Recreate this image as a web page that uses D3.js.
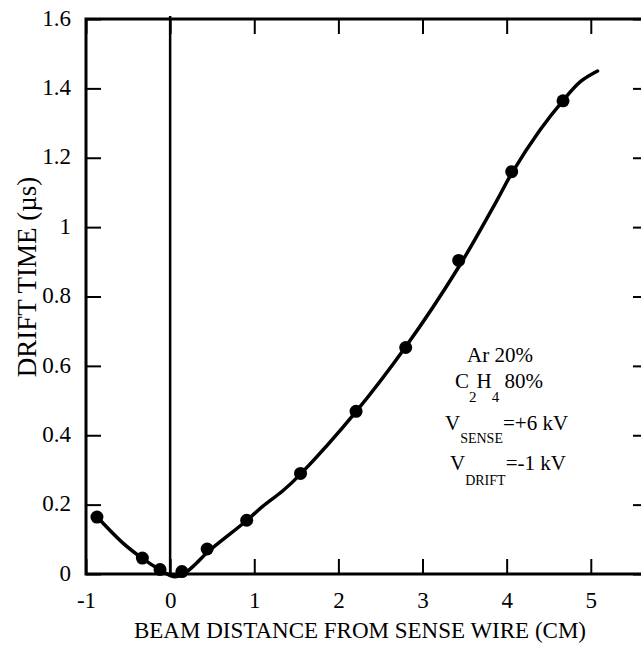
<!DOCTYPE html>
<html>
<head>
<meta charset="utf-8">
<script src="https://cdn.jsdelivr.net/npm/d3@7"></script>
<style>
  body { margin: 0; background: #fff; }
  svg { display: block; }
  svg text { font-family: "Liberation Serif", "Times New Roman", Times, "DejaVu Serif", serif; }
</style>
</head>
<body>
<svg id="chart" width="641" height="649"></svg>
<script>
// measured drift times (dots)
const pointX = [-0.87, -0.33, -0.12, 0.14, 0.44, 0.91, 1.55, 2.21, 2.80, 3.43, 4.06, 4.67]
const pointY = [0.164, 0.046, 0.013, 0.007, 0.072, 0.155, 0.29, 0.469, 0.653, 0.904, 1.16, 1.364]

// hand-drawn fit curve
const curveX = [-0.87, -0.56, -0.33, -0.14, 0.05, 0.18, 0.3, 0.45, 0.9, 1.1, 1.34, 1.55, 2.2, 2.8, 3.43, 3.88, 4.06, 4.39, 4.67, 4.88, 5.08]
const curveY = [0.165, 0.089, 0.045, 0.015, -0.008, 0.004, 0.028, 0.064, 0.152, 0.195, 0.24, 0.288, 0.465, 0.655, 0.885, 1.075, 1.155, 1.278, 1.365, 1.42, 1.45]

const xTicks = [-1, 0, 1, 2, 3, 4, 5]
const yTicks = [0, 0.2, 0.4, 0.6, 0.8, 1, 1.2, 1.4, 1.6]

const margin = { left: 86, top: 19, bottom: 574, right: 648 }

const svg = d3.select('#chart')

const x = d3.scaleLinear().domain([-1, 5.68]).range([margin.left, margin.right])
const y = d3.scaleLinear().domain([0, 1.6]).range([margin.bottom, margin.top])

const fmt = d => String(+d.toFixed(1))

function styleAxis (g) {
  g.attr('font-family', null).attr('font-size', null)
  g.select('.domain').remove()
  g.selectAll('.tick line').attr('stroke', '#000').attr('stroke-width', 2)
  g.selectAll('.tick text').attr('fill', '#000').style('font-size', '23px')
}

svg.append('g')
  .attr('transform', `translate(0,${margin.bottom})`)
  .call(d3.axisBottom(x).tickValues(xTicks).tickFormat(fmt).tickSize(-15).tickPadding(18))
  .call(styleAxis)

svg.append('g')
  .attr('transform', `translate(0,${margin.top})`)
  .call(d3.axisTop(x).tickValues(xTicks).tickFormat('').tickSize(-15))
  .call(styleAxis)

svg.append('g')
  .attr('transform', `translate(${margin.left},0)`)
  .call(d3.axisLeft(y).tickValues(yTicks).tickFormat(fmt).tickSize(-15).tickPadding(15))
  .call(styleAxis)
  .selectAll('.tick text').attr('dy', '0.27em')

svg.append('g')
  .attr('transform', `translate(${margin.right},0)`)
  .call(d3.axisRight(y).tickValues(yTicks).tickFormat('').tickSize(-15))
  .call(styleAxis)

// frame
svg.append('rect')
  .attr('x', margin.left)
  .attr('y', margin.top)
  .attr('width', margin.right - margin.left)
  .attr('height', margin.bottom - margin.top)
  .attr('fill', 'none')
  .attr('stroke', '#000')
  .attr('stroke-width', 3)

// sense wire position
svg.append('line')
  .attr('x1', x(0)).attr('x2', x(0))
  .attr('y1', margin.top - 3).attr('y2', margin.bottom)
  .attr('stroke', '#000')
  .attr('stroke-width', 2.5)

const line = d3.line()
  .x(d => x(d[0]))
  .y(d => y(d[1]))
  .curve(d3.curveCatmullRom.alpha(0.5))

svg.append('path')
  .datum(curveX.map((v, i) => [v, curveY[i]]))
  .attr('d', line)
  .attr('fill', 'none')
  .attr('stroke', '#000')
  .attr('stroke-width', 3.5)
  .attr('stroke-linecap', 'round')

svg.append('g')
  .selectAll('circle')
  .data(pointX.map((v, i) => [v, pointY[i]]))
  .join('circle')
  .attr('cx', d => x(d[0]))
  .attr('cy', d => y(d[1]))
  .attr('r', 6.5)
  .attr('fill', '#000')

// axis titles
svg.append('text')
  .attr('x', 360)
  .attr('y', 638)
  .attr('text-anchor', 'middle')
  .style('font-size', '23px')
  .text('BEAM DISTANCE FROM SENSE WIRE (CM)')

svg.append('text')
  .attr('transform', 'translate(36,277) rotate(-90)')
  .attr('text-anchor', 'middle')
  .style('font-size', '27px')
  .text('DRIFT TIME (µs)')

// gas / voltage annotation
const note = svg.append('g').style('font-size', '21px')

note.append('text').attr('x', 467).attr('y', 362).text('Ar 20%')

const gas = note.append('text').attr('x', 455).attr('y', 388)
gas.append('tspan').text('C')
gas.append('tspan').attr('dy', 14).style('font-size', '15px').text('2')
gas.append('tspan').attr('dy', -14).text('H')
gas.append('tspan').attr('dy', 14).style('font-size', '15px').text('4')
gas.append('tspan').attr('dy', -14).text(' 80%')

const vs = note.append('text').attr('x', 445).attr('y', 430)
vs.append('tspan').text('V')
vs.append('tspan').attr('dy', 13).style('font-size', '14px').text('SENSE')
vs.append('tspan').attr('dy', -13).text('=+6 kV')

const vd = note.append('text').attr('x', 450).attr('y', 470)
vd.append('tspan').text('V')
vd.append('tspan').attr('dy', 15).style('font-size', '14px').text('DRIFT')
vd.append('tspan').attr('dy', -15).text('=-1 kV')
</script>
</body>
</html>
